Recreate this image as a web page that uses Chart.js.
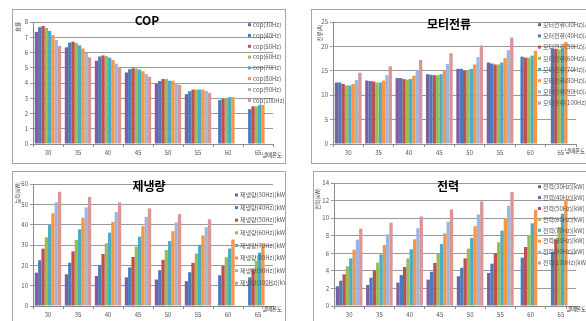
<!DOCTYPE html>
<html>
<head>
<meta charset="utf-8">
<script src="https://cdn.jsdelivr.net/npm/chart.js@4.4.0/dist/chart.umd.min.js"></script>
<style>
  html, body { margin: 0; padding: 0; background: #fff; width: 586px; height: 321px; overflow: hidden; position: relative; }
  .box { position: absolute; border: 1px solid #a6a6a6; box-sizing: border-box; }
  canvas { position: absolute; }
</style>
</head>
<body>
<div class="box" style="left:12px;top:9px;width:274px;height:155px"></div>
<div class="box" style="left:311px;top:9px;width:290px;height:155px"></div>
<div class="box" style="left:12px;top:171px;width:274px;height:170px"></div>
<div class="box" style="left:313px;top:171px;width:290px;height:170px"></div>

<canvas id="cop" width="273" height="154" style="left:12px;top:9px"></canvas>
<canvas id="current" width="275" height="154" style="left:311px;top:9px"></canvas>
<canvas id="cooling" width="273" height="150" style="left:12px;top:171px"></canvas>
<canvas id="power" width="273" height="150" style="left:313px;top:171px"></canvas>

<script>
// Refrigerant temperature categories and compressor frequencies
const temps = ['30', '35', '40', '45', '50', '55', '60', '65'];
const freqs = ['30Hz', '40Hz', '50Hz', '60Hz', '70Hz', '80Hz', '90Hz', '100Hz'];

// COP, one row per frequency across temps
const copRows = [
  [7.35, 6.34, 5.46, 4.69, 3.96, 3.27, null, null],
  [7.66, 6.65, 5.74, 4.90, 4.13, 3.46, 2.88, 2.28],
  [7.74, 6.71, 5.81, 4.97, 4.26, 3.57, 2.95, 2.47],
  [7.61, 6.62, 5.76, 4.95, 4.26, 3.57, 2.97, 2.47],
  [7.42, 6.47, 5.66, 4.88, 4.15, 3.57, 3.07, 2.56],
  [7.14, 6.26, 5.50, 4.77, 4.15, 3.57, 3.07, 2.56],
  [6.82, 5.98, 5.27, 4.60, 3.98, 3.48, null, null],
  [6.43, 5.68, 5.03, 4.41, 3.87, 3.35, null, null]
];

// Motor current [A]
const currentRows = [
  [12.6, 13.0, 13.5, 14.3, 15.4, 16.7, null, null],
  [12.6, 12.9, 13.5, 14.2, 15.4, 16.5, 17.9, 19.6],
  [12.3, 12.8, 13.3, 14.1, 15.0, 16.3, 17.7, 19.4],
  [12.0, 12.6, 13.2, 14.1, 15.0, 16.3, 17.7, 19.3],
  [12.0, 12.6, 13.3, 14.3, 15.4, 16.7, 18.1, 19.6],
  [12.3, 13.0, 14.0, 15.0, 16.3, 17.6, 19.1, 20.9],
  [13.1, 14.1, 15.2, 16.4, 17.8, 19.2, null, null],
  [14.6, 15.9, 17.2, 18.6, 20.2, 21.8, null, null]
];

// Cooling capacity [kW]
const coolingRows = [
  [16.4, 15.6, 14.8, 14.1, 13.0, 12.2, null, null],
  [22.5, 21.3, 20.2, 19.0, 17.6, 16.6, 15.1, 14.1],
  [28.2, 26.9, 25.6, 24.1, 22.7, 21.2, 19.7, 18.1],
  [33.8, 32.5, 30.8, 29.2, 27.5, 25.8, 24.0, 22.2],
  [39.8, 37.7, 36.1, 34.1, 31.9, 30.1, 28.3, 26.3],
  [45.6, 43.4, 41.3, 39.3, 36.8, 34.7, 32.7, 30.4],
  [51.0, 48.5, 46.2, 43.8, 41.1, 38.8, null, null],
  [56.2, 53.6, 51.0, 48.0, 45.2, 42.6, null, null]
];

// Power [kW]
const powerRows = [
  [2.24, 2.39, 2.66, 3.00, 3.38, 3.76, null, null],
  [2.88, 3.22, 3.53, 3.90, 4.36, 4.82, 5.50, 6.15],
  [3.60, 4.02, 4.44, 4.90, 5.42, 6.03, 6.71, 7.59],
  [4.51, 4.93, 5.42, 5.92, 6.52, 7.25, 8.08, 8.99],
  [5.42, 5.88, 6.45, 7.06, 7.74, 8.57, 9.41, 10.50],
  [6.41, 6.94, 7.59, 8.27, 9.07, 9.98, 10.93, 12.10],
  [7.55, 8.16, 8.84, 9.60, 10.43, 11.40, null, null],
  [8.80, 9.48, 10.20, 11.00, 11.90, 12.97, null, null]
];

const seriesColors = ['#7a60a0', '#4a7cbc', '#c0504d', '#9bbb59', '#4bacc6', '#f79646', '#9db6e0', '#d99694'];
const FONT = "'Noto Sans CJK KR', 'DejaVu Sans', sans-serif";

// Draws the panel title, axis captions and the in-plot legend
const panelText = {
  id: 'panelText',
  afterDraw(chart, args, o) {
    const ctx = chart.ctx;
    ctx.save();
    ctx.textBaseline = 'middle';
    // title
    ctx.fillStyle = '#000';
    ctx.font = 'bold 12px ' + FONT;
    ctx.textAlign = 'center';
    ctx.fillText(o.title, o.titleX, o.titleY);
    // x caption
    ctx.font = '5.5px ' + FONT;
    ctx.fillStyle = '#333';
    ctx.fillText('냉매온도', o.xCapX, o.xCapY);
    // y caption (rotated)
    ctx.save();
    ctx.translate(o.yCapX, o.yCapY);
    ctx.rotate(-Math.PI / 2);
    ctx.fillText(o.yCap, 0, 0);
    ctx.restore();
    // legend
    ctx.textAlign = 'left';
    ctx.font = '6px ' + FONT;
    chart.data.datasets.forEach((ds, i) => {
      const y = o.legY + i * o.legStep;
      ctx.fillStyle = ds.backgroundColor;
      ctx.fillRect(o.legX, y - 1.5, 3, 3);
      ctx.fillStyle = '#555';
      ctx.fillText(ds.label, o.legX + 5, y);
    });
    ctx.restore();
  }
};

function makeChart(id, rows, labelFn, yMax, yStep, pad, text) {
  new Chart(document.getElementById(id), {
    type: 'bar',
    data: {
      labels: temps,
      datasets: rows.map((r, i) => ({
        label: labelFn(freqs[i]),
        data: r,
        backgroundColor: seriesColors[i],
        borderWidth: 0,
        barPercentage: 1.0,
        categoryPercentage: 0.88
      }))
    },
    options: {
      responsive: false,
      animation: false,
      layout: { padding: pad },
      plugins: { legend: { display: false }, tooltip: { enabled: false }, panelText: text },
      scales: {
        x: {
          afterFit: s => { s.height = 14; },
          grid: { display: true, drawOnChartArea: false, tickLength: 3, color: '#8c8c8c' },
          border: { color: '#8c8c8c' },
          ticks: { font: { family: FONT, size: 6 }, color: '#555', padding: 2, maxRotation: 0 }
        },
        y: {
          min: 0, max: yMax,
          afterFit: s => { s.width = 14; },
          grid: { color: '#9a9a9a', tickLength: 3 },
          border: { color: '#8c8c8c' },
          ticks: { stepSize: yStep, font: { family: FONT, size: 6 }, color: '#555', padding: 2 }
        }
      }
    },
    plugins: [panelText]
  });
}

makeChart('cop', copRows, f => 'cop(' + f + ')', 8, 1,
  { left: 7, right: 12, top: 13, bottom: 5 },
  { title: 'COP', titleX: 135, titleY: 11.5, xCapX: 260, xCapY: 146, yCap: '효율', yCapX: 6, yCapY: 18,
    legX: 236, legY: 15.7, legStep: 10.8 });

makeChart('current', currentRows, f => '모터전류(' + f + ')[A]', 25, 5,
  { left: 8, right: 10, top: 13, bottom: 5 },
  { title: '모터전류', titleX: 138, titleY: 15, xCapX: 264, xCapY: 142, yCap: '전류(A)', yCapX: 9, yCapY: 24,
    legX: 227, legY: 15.7, legStep: 11.2 });

makeChart('cooling', coolingRows, f => '제냉량(' + f + ')[kW]', 60, 10,
  { left: 7, right: 12, top: 13, bottom: 1 },
  { title: '제냉량', titleX: 137, titleY: 15.7, xCapX: 260, xCapY: 138, yCap: '능력(kW)', yCapX: 6, yCapY: 22,
    legX: 223, legY: 24, legStep: 12.6 });

makeChart('power', powerRows, f => '전력(' + f + ')[kW]', 14, 2,
  { left: 7, right: 10, top: 12, bottom: 1 },
  { title: '전력', titleX: 135, titleY: 15.7, xCapX: 263, xCapY: 138, yCap: '전력(kW)', yCapX: 5, yCapY: 28,
    legX: 225, legY: 15.7, legStep: 10.9 });
</script>
</body>
</html>
